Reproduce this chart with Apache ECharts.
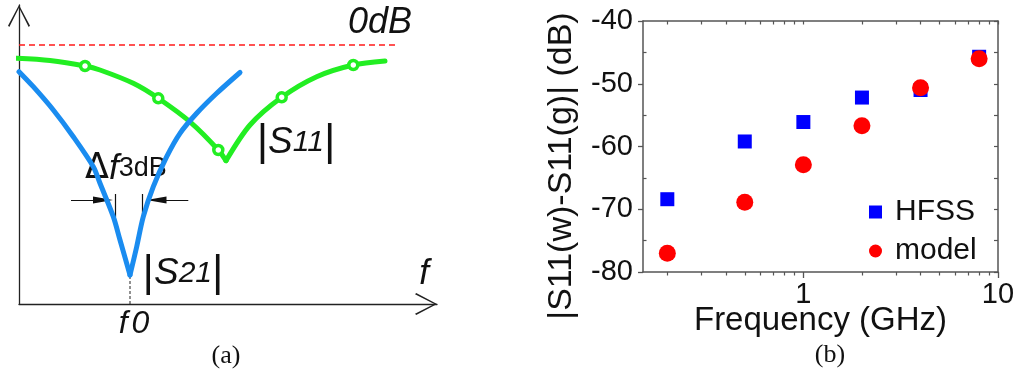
<!DOCTYPE html>
<html><head><meta charset="utf-8">
<script src="https://cdn.jsdelivr.net/npm/echarts@6/dist/echarts.min.js"></script>
<style>html,body{margin:0;padding:0;background:#fff}#c{width:1021px;height:379px}</style>
</head><body><div id="c"></div>
<script>
// ---------- Panel (b) data ----------
const freqGHz = [0.2, 0.5, 1, 2, 4, 8];
const hfssDB  = [-68.4, -59.2, -56.1, -52.2, -51.0, -45.7];
const modelDB = [-77.0, -68.9, -62.9, -56.7, -50.65, -46.0];
const xMajorTicks = [1, 10];
const xMinorTicks = [0.2,0.3,0.4,0.5,0.6,0.7,0.8,0.9,2,3,4,5,6,7,8,9];
const yMinorTicks = [-75, -65, -55, -45];

// ---------- Panel (a) schematic data (arbitrary units: f, level) ----------
const s11Left  = [[-2.3,245.7],[31,243.5],[66,238],[81,234],[114.3,220.7],[139.3,205.7],[172.7,180.7],[199.3,154],[207,143.3]];
const s11Right = [[207,143.3],[231,179],[262.7,206.7],[297.7,227.3],[334.3,239],[366,243]];
const s11Marks = [[66,238],[139.3,205.7],[199.3,154],[262.7,206.7],[334.3,239]];
const s21Left  = [[0,232.3],[14.3,217.3],[34.3,194],[54.3,167.3],[74.3,137.3],[81,120.7],[94.3,87.3],[101,64],[111,29]];
const s21Right = [[111,29],[117.7,57.3],[124.3,87.3],[134.3,117.3],[147.7,147.3],[161,170.7],[177.7,190.7],[197.7,210.7],[221,231.5]];
const zeroDBLine = [[0,259],[376,259]];
const f0Line = [[111,0],[111,28]];
const bwArrows = [[[52,104],[84,104]], [[169.3,104],[137.5,104]]];
const bwBars = [[[96.3,110],[96.3,87]], [[123.7,110],[123.7,87]]];

const GREEN = '#22ee22', BLUE = '#1a8cf0';
const chevron = 'path://M11,0 L22,20.8 L20.7,22 L11,2.8 L1.3,22 L0,20.8 Z';
const arrowHead = 'path://M10,0 L13.6,20 L6.4,20 Z M0,20 L0,20 Z M20,0 L20,0 Z';
const AX = '#555';

const chart = echarts.init(document.getElementById('c'), null, {renderer:'canvas'});
const hidden = {show:false};

const option = {
  animation:false,
  backgroundColor:'#fff',
  grid:[
    {left:19, top:5, width:418, height:299, outerBoundsMode:'none', containLabel:false},
    {left:643, top:21, width:355, height:251, outerBoundsMode:'none', containLabel:false}
  ],
  xAxis:[
    {type:'value', gridIndex:0, min:0, max:418,
     axisLine:{show:true, onZero:false, lineStyle:{color:'#222', width:1.3}, symbol:['none', chevron], symbolSize:[22,22], symbolOffset:[0,-11]},
     axisTick:hidden, axisLabel:hidden, splitLine:hidden},
    {type:'log', gridIndex:1, min:0.15, max:10, logBase:10, position:'bottom',
     axisLine:{lineStyle:{color:AX, width:1.5}},
     axisTick:{show:true, length:6, lineStyle:{color:AX,width:1.3}, customValues:xMajorTicks},
     axisLabel:{show:true, customValues:xMajorTicks, fontSize:29, color:'#111', fontFamily:'Liberation Sans', margin:8, formatter:(v)=>String(v)},
     splitLine:hidden,
     name:'Frequency (GHz)', nameLocation:'middle', nameGap:32, nameMoveOverlap:false,
     nameTextStyle:{fontSize:33, color:'#111', fontFamily:'Liberation Sans'}},
    {type:'log', gridIndex:1, min:0.15, max:10, logBase:10, position:'bottom',
     axisLine:hidden, axisLabel:hidden, splitLine:hidden,
     axisTick:{show:true, length:3.5, lineStyle:{color:AX,width:1.2}, customValues:xMinorTicks}},
    {type:'log', gridIndex:1, min:0.15, max:10, logBase:10, position:'top',
     axisLine:{show:true, lineStyle:{color:AX, width:1.5}}, axisLabel:hidden, splitLine:hidden,
     axisTick:{show:true, inside:true, length:3.5, lineStyle:{color:AX,width:1.2}, customValues:xMinorTicks.concat(xMajorTicks)}}
  ],
  yAxis:[
    {type:'value', gridIndex:0, min:0, max:299,
     axisLine:{show:true, onZero:false, lineStyle:{color:'#222', width:1.3}, symbol:['none', chevron], symbolSize:[22,22], symbolOffset:[0,-11]},
     axisTick:hidden, axisLabel:hidden, splitLine:hidden},
    {type:'value', gridIndex:1, min:-80, max:-40, interval:10, position:'left',
     axisLine:{show:true, lineStyle:{color:AX, width:1.5}},
     axisTick:{show:true, length:5, lineStyle:{color:AX,width:1.3}},
     axisLabel:{fontSize:29, color:'#111', fontFamily:'Liberation Sans', margin:10},
     splitLine:hidden,
     name:'|S11(w)-S11(g)| (dB)', nameLocation:'middle', nameGap:64, nameMoveOverlap:false,
     nameTextStyle:{fontSize:34, color:'#111', fontFamily:'Liberation Sans', padding:[0,39,0,0]}},
    {type:'value', gridIndex:1, min:-80, max:-40, interval:10, position:'left',
     axisLine:hidden, axisLabel:hidden, splitLine:hidden,
     axisTick:{show:true, inside:true, length:3.5, lineStyle:{color:AX,width:1.2}, customValues:yMinorTicks}},
    {type:'value', gridIndex:1, min:-80, max:-40, interval:5, position:'right',
     axisLine:{show:true, lineStyle:{color:AX, width:1.5}}, axisLabel:hidden, splitLine:hidden,
     axisTick:{show:true, inside:true, length:4, lineStyle:{color:AX,width:1.2}}}
  ],
  legend:{
    data:['HFSS','model'], orient:'vertical', left:864, top:192,
    itemWidth:13, itemHeight:13, itemGap:9,
    textStyle:{fontSize:30, color:'#111', fontFamily:'Liberation Sans', padding:[0,0,0,8]}
  },
  series:[
    {type:'line', xAxisIndex:0, yAxisIndex:0, data:zeroDBLine, symbol:'none', clip:false, silent:true,
     lineStyle:{color:'#ff1a1a', width:1.5, type:[6,4]}},
    {type:'line', xAxisIndex:0, yAxisIndex:0, data:f0Line, symbol:'none', clip:false,
     lineStyle:{color:'#222', width:1, type:[3,2]}},
    {type:'line', xAxisIndex:0, yAxisIndex:0, data:s11Left, smooth:0.3, symbol:'none', clip:false,
     lineStyle:{color:GREEN, width:5, cap:'round', join:'round'}},
    {type:'line', xAxisIndex:0, yAxisIndex:0, data:s11Right, smooth:0.3, symbol:'none', clip:false,
     lineStyle:{color:GREEN, width:5, cap:'round', join:'round'}},
    {type:'line', xAxisIndex:0, yAxisIndex:0, data:s21Left, smooth:0.3, symbol:'none', clip:false,
     lineStyle:{color:BLUE, width:5, cap:'round', join:'round'}},
    {type:'line', xAxisIndex:0, yAxisIndex:0, data:s21Right, smooth:0.3, symbol:'none', clip:false,
     lineStyle:{color:BLUE, width:5, cap:'round', join:'round'}},
    {type:'scatter', xAxisIndex:0, yAxisIndex:0, data:s11Marks, symbol:'circle', symbolSize:9, z:5,
     itemStyle:{color:'#fff', borderColor:GREEN, borderWidth:3.5, opacity:1}},
    {type:'lines', coordinateSystem:'cartesian2d', xAxisIndex:0, yAxisIndex:0,
     data:bwArrows.map(c=>({coords:c})), symbol:['none', arrowHead], symbolSize:20,
     lineStyle:{color:'#111', width:1, opacity:1}},
    {type:'lines', coordinateSystem:'cartesian2d', xAxisIndex:0, yAxisIndex:0,
     data:bwBars.map(c=>({coords:c})), symbol:'none',
     lineStyle:{color:'#111', width:1.2, opacity:1}},
    {name:'HFSS', type:'scatter', xAxisIndex:1, yAxisIndex:1, symbol:'rect', symbolSize:14,
     itemStyle:{color:'#0000ff', opacity:1}, data:freqGHz.map((f,i)=>[f,hfssDB[i]])},
    {name:'model', type:'scatter', xAxisIndex:1, yAxisIndex:1, symbol:'circle', symbolSize:17,
     itemStyle:{color:'#ff0000', opacity:1}, data:freqGHz.map((f,i)=>[f,modelDB[i]])}
  ],
  graphic:[
    {type:'text', x:380, y:23, style:{text:'0dB', fontSize:36, fontStyle:'italic', fontFamily:'Liberation Sans', fill:'#111', align:'center', verticalAlign:'middle'}},
    {type:'text', x:296, y:143, style:{text:'{b||}{s|S}{n|11}{b||}', align:'center', verticalAlign:'middle', fill:'#111',
      rich:{b:{fontSize:44, fontFamily:'Liberation Sans', fill:'#111'}, s:{fontSize:37, fontStyle:'italic', fontFamily:'Liberation Sans', fill:'#111'}, n:{fontSize:30, fontStyle:'italic', fontFamily:'Liberation Sans', fill:'#111'}}}},
    {type:'text', x:183, y:274, style:{text:'{b||}{s|S}{n|21}{b||}', align:'center', verticalAlign:'middle', fill:'#111',
      rich:{b:{fontSize:44, fontFamily:'Liberation Sans', fill:'#111'}, s:{fontSize:37, fontStyle:'italic', fontFamily:'Liberation Sans', fill:'#111'}, n:{fontSize:30, fontStyle:'italic', fontFamily:'Liberation Sans', fill:'#111'}}}},
    {type:'text', x:85, y:169, style:{text:'{d|Δ}{f|f}{s|3dB}', align:'left', verticalAlign:'middle', fill:'#111',
      rich:{d:{fontSize:35, fontFamily:'DejaVu Sans', fill:'#111'}, f:{fontSize:35, fontStyle:'italic', fontFamily:'Liberation Sans', fill:'#111'}, s:{fontSize:27, fontFamily:'Liberation Sans', fill:'#111'}}}},
    {type:'text', x:424, y:274, style:{text:'f', fontSize:35, fontStyle:'italic', fontFamily:'Liberation Sans', fill:'#111', align:'center', verticalAlign:'middle'}},
    {type:'text', x:134, y:324, style:{text:'{f|f}{z|0}', align:'center', verticalAlign:'middle', fill:'#111',
      rich:{f:{fontSize:32, fontStyle:'italic', fontFamily:'Liberation Sans', fill:'#111'}, z:{fontSize:32, fontStyle:'italic', fontFamily:'Liberation Sans', fill:'#111', padding:[0,0,0,4]}}}},
    {type:'text', x:226, y:356, style:{text:'(a)', fontSize:26, fontFamily:'Liberation Serif', fill:'#111', align:'center', verticalAlign:'middle'}},
    {type:'text', x:830, y:355, style:{text:'(b)', fontSize:26, fontFamily:'Liberation Serif', fill:'#111', align:'center', verticalAlign:'middle'}}
  ]
};
chart.setOption(option);
</script></body></html>
